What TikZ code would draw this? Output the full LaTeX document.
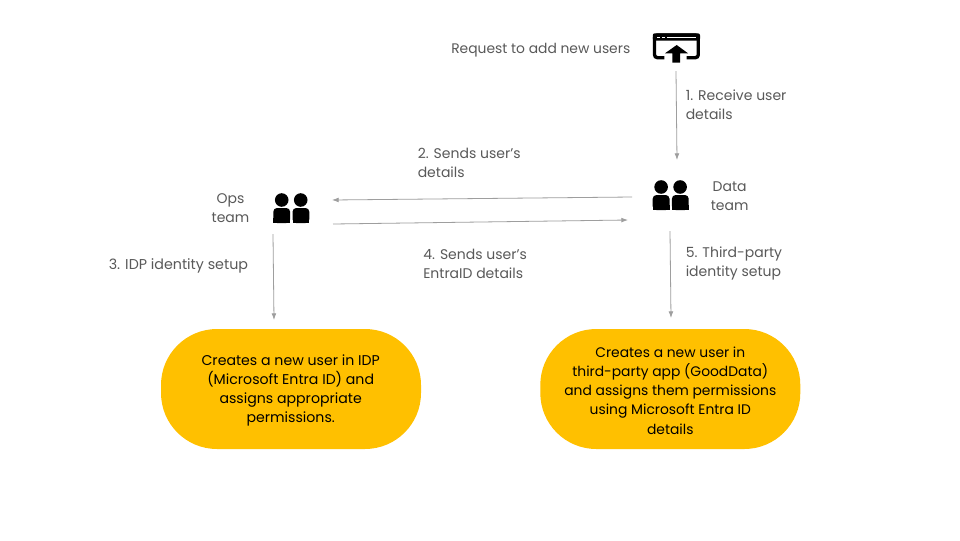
\documentclass[tikz,border=0pt]{standalone}
\usepackage{fontspec}
\setmainfont{Poppins}
\usetikzlibrary{arrows.meta}
\definecolor{txt}{HTML}{595959}
\definecolor{lin}{HTML}{9E9E9E}
\definecolor{pill}{HTML}{FFC000}
\tikzset{
  x=0.75pt,y=-0.75pt,
  lbl/.style={text=txt,font=\fontsize{10.5}{14.4}\selectfont,align=left,anchor=west,inner sep=0},
  lblc/.style={lbl,align=center,anchor=center},
  pillbox/.style={fill=pill,draw=none,rounded corners=42pt,minimum width=195pt,minimum height=90pt,inner sep=0},
  pilltext/.style={inner sep=0,text=black,align=center,font=\fontsize{10.4}{14.4}\selectfont},
  conn/.style={draw=lin,line width=0.6pt,-{Latex[length=5pt,width=3.6pt]}},
}
\newcommand{\people}[2]{%
  \begin{scope}[shift={(#1,#2)}]
    \fill (-9.6,-8) circle[radius=6.8];
    \fill (9.4,-8) circle[radius=6.8];
    \fill[rounded corners=2.8pt] (-18,15) -- (-18,0) -- (-1.2,0) -- (-1.2,15) -- cycle;
    \fill[rounded corners=2.8pt] (1.2,15) -- (1.2,0) -- (18,0) -- (18,15) -- cycle;
    \fill (-18,10) rectangle (-1.2,15);
    \fill (1.2,10) rectangle (18,15);
  \end{scope}}
\begin{document}
\begin{tikzpicture}
\useasboundingbox[fill=white] (0,0) rectangle (960,540);
% icons
\draw[line width=2.5pt,rounded corners=2.2pt] (664.3,57.7) -- (654.5,57.7) -- (654.5,35) -- (698.3,35) -- (698.3,57.7) -- (686.7,57.7);
\fill[rounded corners=1.5pt] (652.8,33.3) rectangle (700,40.7);
\fill[white] (657,36.6) rectangle (660,38.2);
\fill[white] (662,36.6) rectangle (665,38.2);
\fill[white] (667,37) rectangle (696,38);
\fill (676.7,45) -- (688,53.3) -- (680,53.3) -- (680,62.7) -- (672.3,62.7) -- (672.3,53.3) -- (665,53.3) -- cycle;
\people{291.3}{208}
\people{670.7}{195}
\coordinate (web) at (676,71);
\coordinate (dataT) at (677,160);
\coordinate (dataL) at (632,197);
\coordinate (opsR) at (332,200);
\coordinate (opsR2) at (333,224);
\coordinate (dataL2) at (628,220);
\coordinate (opsB) at (273,234);
\coordinate (p1T) at (274,320);
\coordinate (dataB) at (670,231);
\coordinate (p2T) at (671,318);
% labels
\node[lbl,font=\fontsize{10.4}{14.4}\selectfont] (req) at (451,50) {Request to add new users};
\node[lbl] (l1) at (685.5,104.5) {1. Receive user\\details};
\node[lbl] (l2) at (417.5,163) {2. Sends user’s\\details};
\node[lblc] (ops) at (230.5,208.5) {Ops\\team};
\node[lblc] (data) at (729.7,196.5) {Data\\team};
\node[lbl,font=\fontsize{10.7}{14.4}\selectfont] (l3) at (108.5,266) {3. IDP identity setup};
\node[lbl] (l4) at (423,263.5) {4. Sends user’s\\EntraID details};
\node[lbl] (l5) at (685.5,263.5) {5. Third-party\\identity setup};
% pills
\node[pillbox] (p1) at (291,389) {};
\node[pillbox] (p2) at (670.3,389) {};
\node[pilltext,font=\fontsize{10.6}{14.4}\selectfont] (p1t) at (290.7,390.5) {Creates a new user in IDP\\(Microsoft Entra ID) and\\assigns appropriate\\permissions.};
\node[pilltext] (p2t) at (670.3,390.5) {Creates a new user in\\third-party app (GoodData)\\and assigns them permissions\\using Microsoft Entra ID\\details};
% connectors
\draw[conn] (web) -- (dataT);
\draw[conn] (dataL) -- (opsR);
\draw[conn] (opsR2) -- (dataL2);
\draw[conn] (opsB) -- (p1T);
\draw[conn] (dataB) -- (p2T);
\end{tikzpicture}
\end{document}
